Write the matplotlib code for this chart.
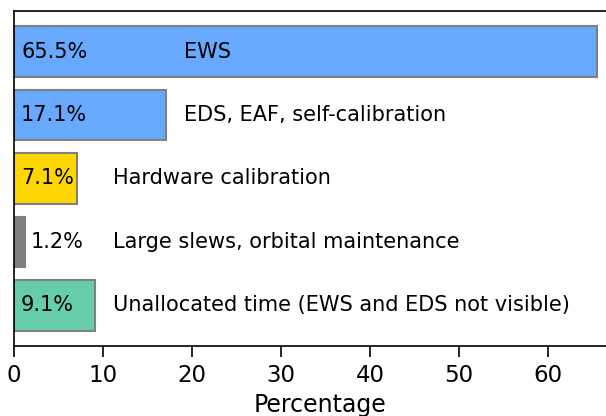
import matplotlib
matplotlib.use("Agg")
import matplotlib.pyplot as plt
import numpy as np

# Share of observing time, top to bottom
categories = ["EWS", "EDS, EAF, self-calibration", "Hardware calibration",
              "Large slews, orbital maintenance",
              "Unallocated time (EWS and EDS not visible)"]
percent = [65.5, 17.1, 7.1, 1.2, 9.1]
colors = ["#66a9ff", "#66a9ff", "#ffd700", "#7f7f7f", "#66cdaa"]

fig = plt.figure(figsize=(6.06, 4.16), dpi=100)
ax = fig.add_axes([14 / 606, 70 / 416, 612 / 606, 335 / 416])

y = np.arange(len(categories))
bars = ax.barh(y, percent, height=0.8, color=colors, edgecolor="gray", linewidth=1.5)
ax.invert_yaxis()
ax.set_xlim(0, max(percent) * 1.05)

for i, (name, val) in enumerate(zip(categories, percent)):
    # percentage inside the bar, or just after it when the bar is thin
    px = 0.8 if val > 5 else val + 0.7
    ax.text(px, i, f"{val}%", va="center", ha="left", fontsize=15)
    # category name right of the bar (inside for the long one)
    if val > 30:
        nx = 19.1
    else:
        nx = max(val, 9.1) + 2.0
    ax.text(nx, i, name, va="center", ha="left", fontsize=15)

ax.set_yticks([])
ax.tick_params(axis="x", labelsize=16.5, length=8, width=1.2, pad=5)
ax.set_xlabel("Percentage", fontsize=17, labelpad=4)
for s in ax.spines.values():
    s.set_linewidth(1.2)

fig.savefig("out.png", dpi=100)
